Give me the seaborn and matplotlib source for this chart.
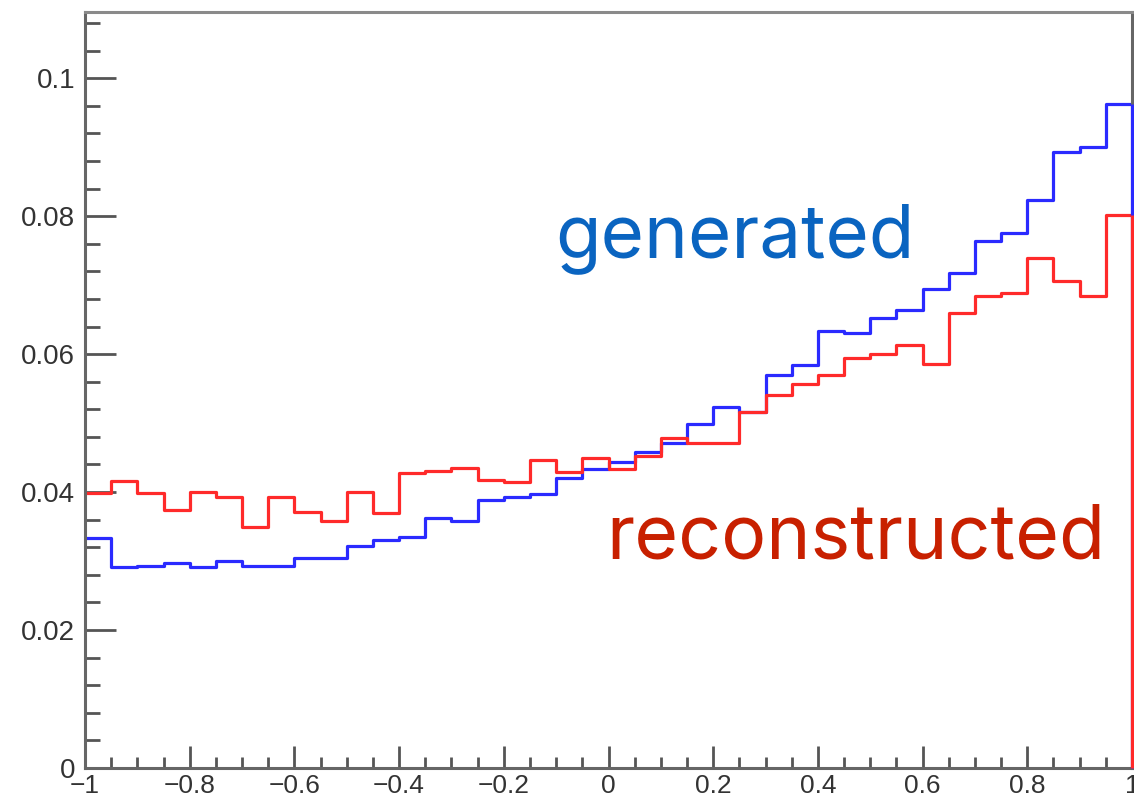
import numpy as np
import pandas as pd
import matplotlib
matplotlib.use("Agg")
import matplotlib.pyplot as plt
from matplotlib.ticker import FixedLocator, MultipleLocator, FixedFormatter
import seaborn as sns

# ---- data (40 bins from -1 to 1) ----
bin_edges = [round(-1.0 + 0.05 * i, 4) for i in range(41)]
generated = [0.0334, 0.0292, 0.0293, 0.0297, 0.0291, 0.0300, 0.0293, 0.0293, 0.0304, 0.0305,
             0.0322, 0.0330, 0.0335, 0.0362, 0.0358, 0.0389, 0.0393, 0.0397, 0.0421, 0.0434,
             0.0444, 0.0458, 0.0471, 0.0499, 0.0524, 0.0516, 0.0570, 0.0584, 0.0634, 0.0631,
             0.0653, 0.0664, 0.0695, 0.0718, 0.0764, 0.0776, 0.0823, 0.0893, 0.0900, 0.0962]
reconstructed = [0.0399, 0.0416, 0.0399, 0.0374, 0.0400, 0.0393, 0.0350, 0.0393, 0.0371, 0.0358,
                 0.0400, 0.0370, 0.0428, 0.0431, 0.0435, 0.0418, 0.0414, 0.0446, 0.0429, 0.0450,
                 0.0434, 0.0452, 0.0478, 0.0471, 0.0471, 0.0516, 0.0541, 0.0556, 0.0570, 0.0595,
                 0.0600, 0.0613, 0.0585, 0.0660, 0.0684, 0.0688, 0.0740, 0.0706, 0.0684, 0.0802]
x_ticks = [-1.0, -0.8, -0.6, -0.4, -0.2, 0.0, 0.2, 0.4, 0.6, 0.8, 1.0]
x_tick_labels = ["\u22121", "\u22120.8", "\u22120.6", "\u22120.4", "\u22120.2", "0",
                 "0.2", "0.4", "0.6", "0.8", "1"]
y_ticks = [0.0, 0.02, 0.04, 0.06, 0.08, 0.1]
y_tick_labels = ["0", "0.02", "0.04", "0.06", "0.08", "0.1"]
series_names = ["generated", "reconstructed"]

edges_arr = np.asarray(bin_edges)
centers = 0.5 * (edges_arr[:-1] + edges_arr[1:])
df = pd.DataFrame({
    "x": np.concatenate([centers, centers]),
    "w": np.concatenate([generated, reconstructed]),
    "series": [series_names[0]] * len(centers) + [series_names[1]] * len(centers),
})

sns.set_theme(style="white")
plt.rcParams["font.family"] = ["Liberation Sans", "DejaVu Sans"]

W, H = 1134, 802
fig = plt.figure(figsize=(W / 100, H / 100), dpi=100)
ax = fig.add_axes([85 / W, 34 / H, 1047 / W, 756 / H])

line_colors = {"generated": "#2a2aff", "reconstructed": "#ff2a2a"}
for name in series_names:
    sub = df[df["series"] == name].reset_index(drop=True)
    sns.histplot(data=sub, x="x", weights="w", bins=list(bin_edges), element="step",
                 fill=False, color=line_colors[name], linewidth=2.3, ax=ax)
    # vertical drop of the last bin to zero at the right edge
    vals = sub["w"].to_numpy()
    ax.vlines(bin_edges[-1], 0, vals[-1], color=line_colors[name], linewidth=2.3,
              clip_on=False, zorder=3)

ax.set_xlim(-1, 1)
ax.set_ylim(0, 0.1096)
ax.set_xlabel("")
ax.set_ylabel("")

ax.xaxis.set_major_locator(FixedLocator(x_ticks))
ax.xaxis.set_major_formatter(FixedFormatter(x_tick_labels))
ax.xaxis.set_minor_locator(MultipleLocator(0.05))
ax.yaxis.set_major_locator(FixedLocator(y_ticks))
ax.yaxis.set_major_formatter(FixedFormatter(y_tick_labels))
ax.yaxis.set_minor_locator(MultipleLocator(0.004))

tick_col = "#555555"
ax.tick_params(axis="y", which="major", direction="in", length=22, width=2,
               color=tick_col, labelsize=20, labelcolor="#333333", pad=7,
               left=True, right=False)
ax.tick_params(axis="y", which="minor", direction="in", length=11, width=2,
               color=tick_col, left=True, right=False)
ax.tick_params(axis="x", which="major", direction="in", length=16, width=2,
               color=tick_col, labelsize=19, labelcolor="#333333", pad=4,
               bottom=True, top=False)
ax.tick_params(axis="x", which="minor", direction="in", length=8, width=2,
               color=tick_col, bottom=True, top=False)

for side, sp in ax.spines.items():
    sp.set_visible(True)
    sp.set_linewidth(2.2)
    sp.set_color("#666666")
ax.spines["top"].set_color("#8a8a8a")

# annotations, sized to match target widths
txt_font = ["Inter", "DejaVu Sans"]
t1 = ax.text(-0.1013, 0.0741, "generated", color="#0a64c0", fontsize=50,
             family=txt_font, va="baseline", ha="left")
t2 = ax.text(-0.0038, 0.0303, "reconstructed", color="#c82000", fontsize=50,
             family=txt_font, va="baseline", ha="left")
fig.canvas.draw()
r = fig.canvas.get_renderer()
for t, target in ((t1, 359), (t2, 499)):
    w = t.get_window_extent(r).width
    t.set_fontsize(50 * target / w)

fig.savefig("out.png", dpi=100)
